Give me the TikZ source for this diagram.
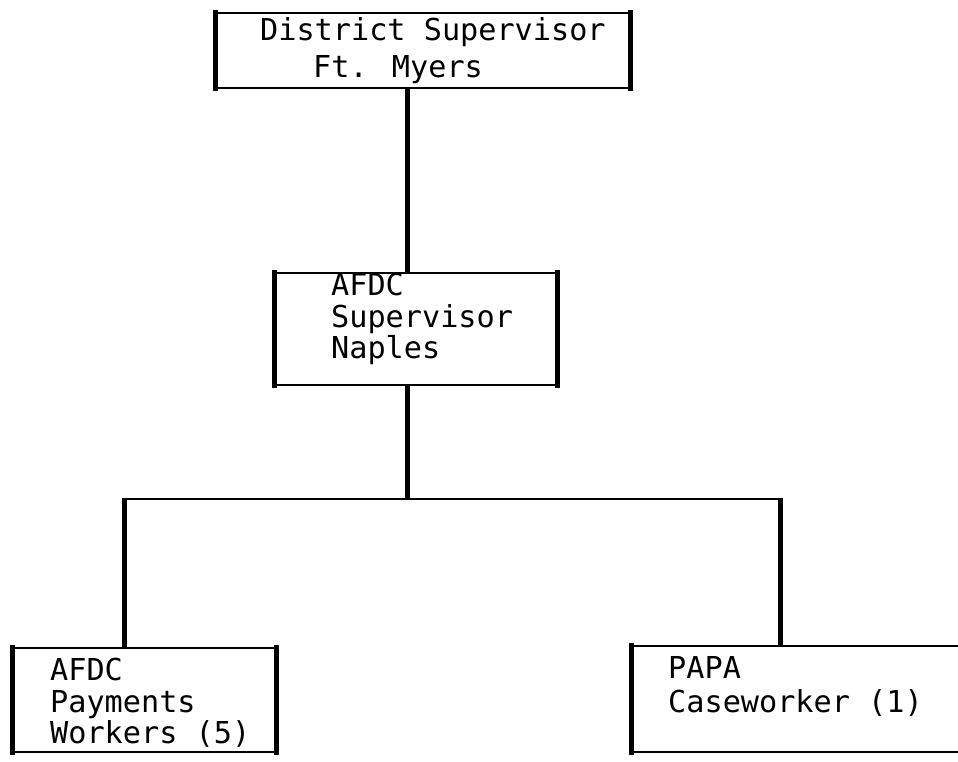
\documentclass[tikz,border=0pt]{standalone}
\usepackage{fontspec}
\newfontfamily\typer{DejaVu Sans Mono}
\begin{document}
\begin{tikzpicture}[x=1pt,y=-1pt,
  box/.style={draw=none,inner sep=0pt,rectangle},
  side/.style={line width=5pt},
  edge/.style={line width=2pt},
  conn/.style={line width=5pt},
  barline/.style={line width=2.6pt},
  txt/.style={inner sep=0pt,anchor=base west,font=\typer\fontsize{30.2}{31}\selectfont}]
\useasboundingbox[fill=white] (0,0) rectangle (958,762);
% boxes
\node[box,minimum width=414pt,minimum height=75pt] (top) at (423,50.5) {};
\node[box,minimum width=282pt,minimum height=112pt] (mid) at (416,329) {};
\node[box,minimum width=263pt,minimum height=104pt] (bl) at (144.5,700) {};
\node[box,minimum width=368pt,minimum height=106pt] (br) at (816,699) {};
\foreach \b in {top,mid,bl,br}{
  \draw[edge] (\b.north west) -- (\b.north east);
  \draw[edge] (\b.south west) -- (\b.south east);
  \draw[side] ([yshift=3pt]\b.north west) -- ([yshift=-3pt]\b.south west);
  \draw[side] ([yshift=3pt]\b.north east) -- ([yshift=-3pt]\b.south east);
}
% texts
\node[txt] (t1) at (260,41) {District Supervisor};
\node[txt] (t2) at (313,78) {Ft. Myers};
\node[txt] (m1) at (331,295) {AFDC};
\node[txt] (m2) at (331,327) {Supervisor};
\node[txt] (m3) at (331,358) {Naples};
\node[txt] (l1) at (50,680) {AFDC};
\node[txt] (l2) at (50,712) {Payments};
\node[txt] (l3) at (50,743) {Workers (5)};
\node[txt] (r1) at (668,678) {PAPA};
\node[txt] (r2) at (668,712) {Caseworker (1)};
% connectors
\coordinate (j) at (407,499);
\coordinate (jl) at (124,499);
\coordinate (jr) at (780,499);
\draw[conn] (top.south -| j) -- (mid.north -| j);
\draw[conn] (mid.south -| j) -- (j);
\draw[barline] ([xshift=-2.5pt]jl) -- ([xshift=2.5pt]jr);
\draw[conn] ([yshift=1.3pt]jl) -- (bl.north -| jl);
\draw[conn] ([yshift=1.3pt]jr) -- (br.north -| jr);
\end{tikzpicture}
\end{document}
